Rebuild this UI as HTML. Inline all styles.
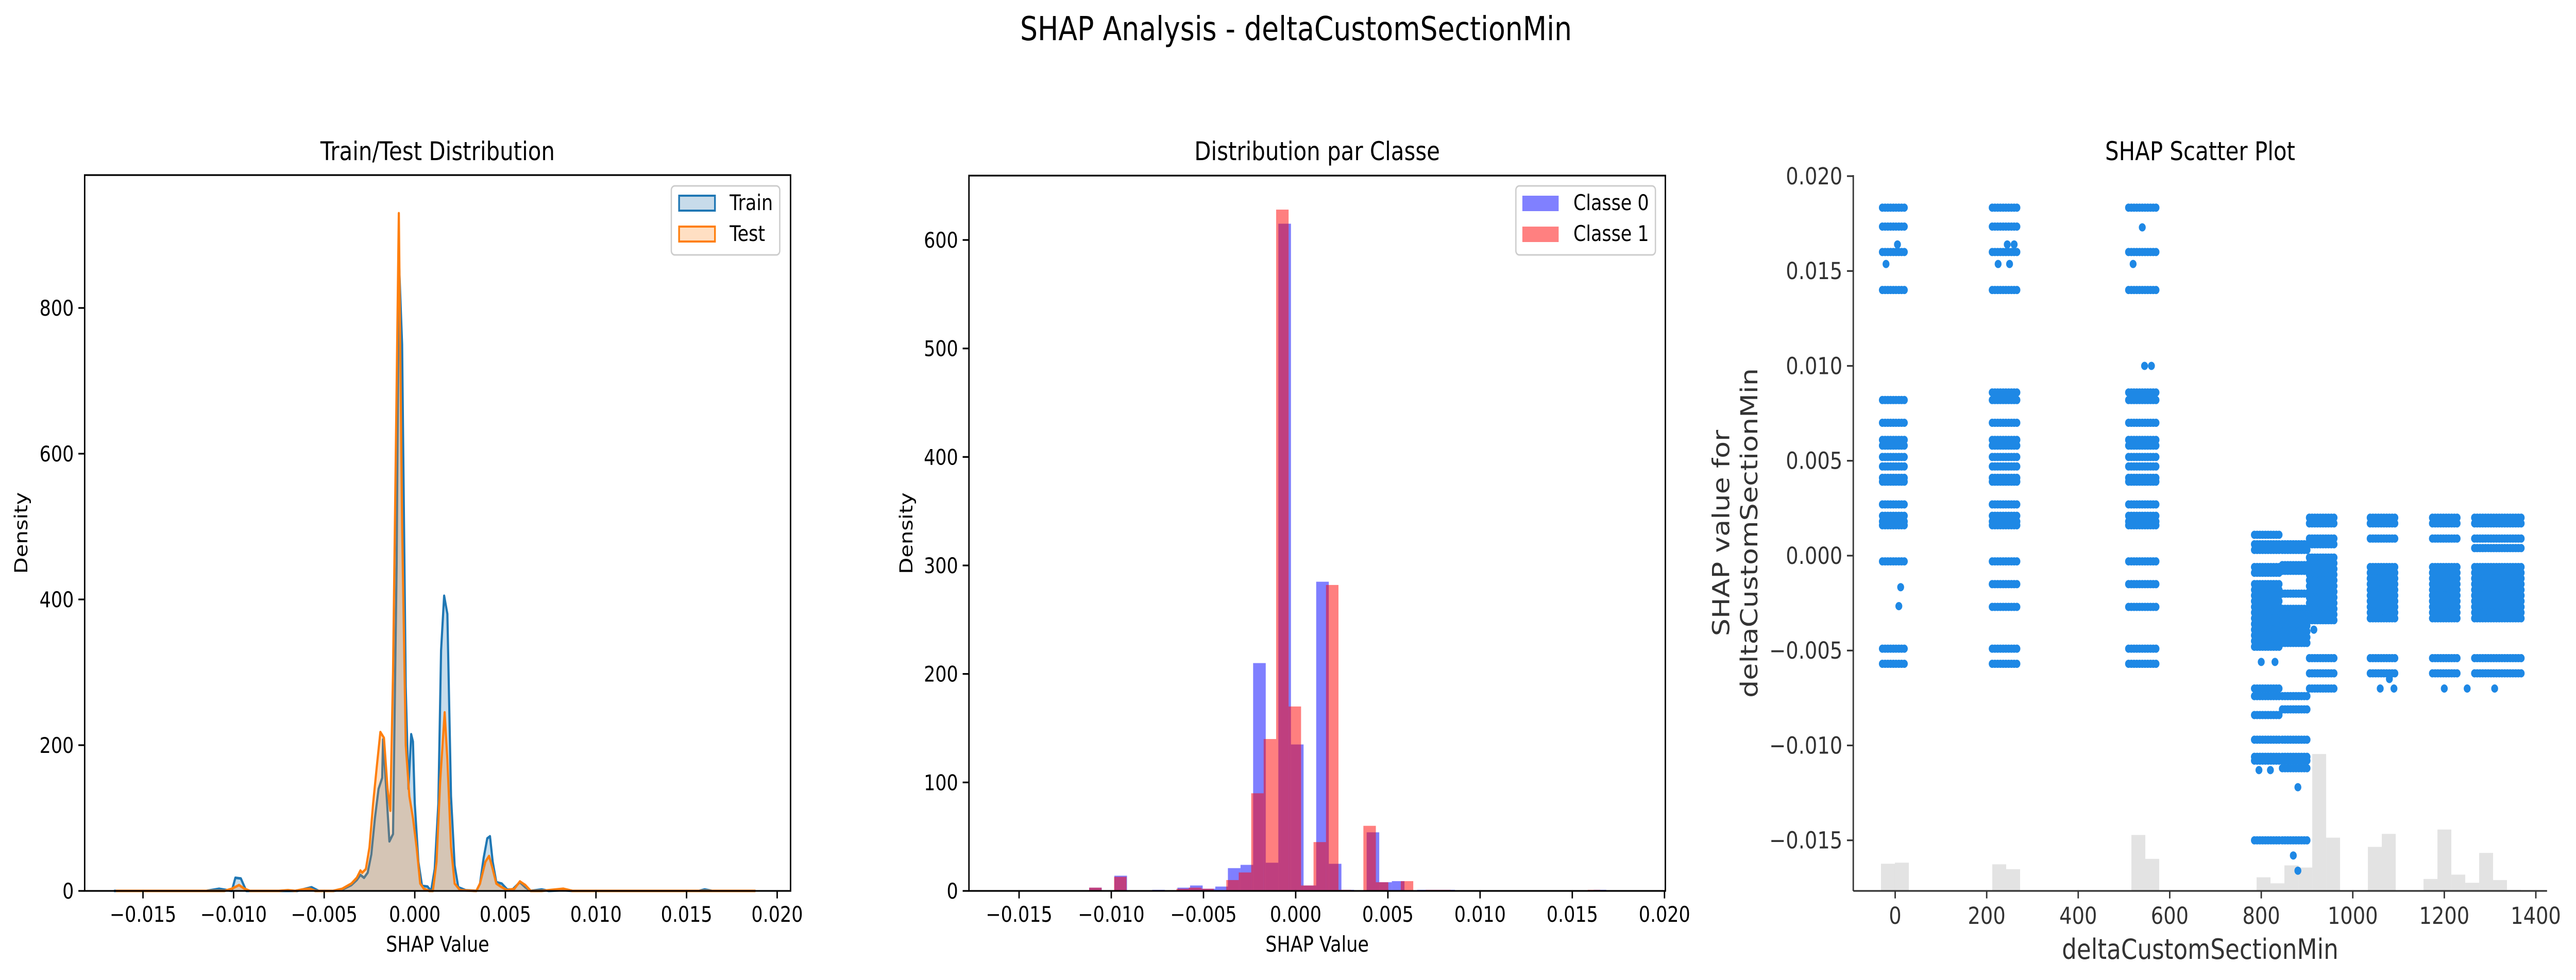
<!DOCTYPE html>
<html><head><meta charset="utf-8">
<style>
html,body{margin:0;padding:0;background:#fff;overflow:hidden;width:100vw;height:100vh;}
svg{display:block;width:100vw;height:100vh;font-family:"DejaVu Sans","Liberation Sans",sans-serif;}
</style></head>
<body>
<svg id="fig" viewBox="0 0 5963 1903" preserveAspectRatio="none" xmlns="http://www.w3.org/2000/svg">
<rect width="5963" height="1903" fill="#fff"/>
<text x="3000" y="78" font-size="64" text-anchor="middle">SHAP Analysis - deltaCustomSectionMin</text>
<g id="p1"></g>
<g id="p2"></g>
<g id="p3"></g>
</svg>
<script>
// ---------- Panel 1 data ----------
const trainKde = [[-0.0166,0],[-0.0115,0],[-0.0108,3],[-0.0101,0],[-0.0099,18],[-0.0096,17],[-0.0093,0],[-0.0065,0],[-0.0057,5],[-0.0053,0],[-0.0045,0],[-0.0040,2],[-0.0035,8],[-0.0032,15],[-0.0030,22],[-0.0028,18],[-0.0026,25],[-0.0024,50],[-0.0022,100],[-0.0020,140],[-0.0018,155],[-0.00175,208],[-0.0016,150],[-0.0014,68],[-0.0012,78],[-0.0010,450],[-0.00088,870],[-0.0007,750],[-0.0005,280],[-0.00035,140],[-0.0002,215],[-0.0001,205],[0.0000,120],[0.0002,40],[0.0004,7],[0.0007,6],[0.0009,0],[0.0011,30],[0.0013,120],[0.00145,330],[0.00162,405],[0.0018,380],[0.0020,130],[0.0022,35],[0.0024,5],[0.0028,1],[0.0034,0],[0.0036,10],[0.0038,45],[0.0040,72],[0.00415,75],[0.0043,40],[0.0045,12],[0.0048,10],[0.0051,2],[0.0054,2],[0.0058,12],[0.0061,5],[0.0064,0],[0.007,2],[0.0074,0],[0.0082,1],[0.0087,0],[0.0157,0],[0.016,2],[0.0164,0],[0.0188,0]];
const testKde = [[-0.0165,0],[-0.0105,0],[-0.0101,3],[-0.0097,8],[-0.0094,3],[-0.0091,0],[-0.0075,0],[-0.0070,1],[-0.0066,0],[-0.0062,2],[-0.0058,3],[-0.0055,0],[-0.0045,0],[-0.0040,3],[-0.0035,10],[-0.0032,18],[-0.0030,28],[-0.0029,25],[-0.0027,30],[-0.0025,60],[-0.0023,120],[-0.0021,170],[-0.0019,218],[-0.0017,210],[-0.0015,140],[-0.00135,110],[-0.0012,300],[-0.00088,930],[-0.0007,500],[-0.0005,200],[-0.0003,130],[-0.0001,100],[0.0001,60],[0.0003,10],[0.0005,3],[0.0008,0],[0.0010,0],[0.0012,40],[0.0014,150],[0.00165,245],[0.0018,180],[0.0020,60],[0.0022,10],[0.0025,1],[0.0034,0],[0.0036,10],[0.0039,40],[0.0041,48],[0.0043,30],[0.0045,10],[0.0048,5],[0.0051,1],[0.0055,3],[0.0058,13],[0.0061,8],[0.0064,0],[0.0070,0],[0.0082,3],[0.0087,0],[0.0188,0]];
const shapTicks = [-0.015,-0.010,-0.005,0.000,0.005,0.010,0.015,0.020];
const shapTickLabels = ["\u22120.015","\u22120.010","\u22120.005","0.000","0.005","0.010","0.015","0.020"];
const densTicks1 = [0,200,400,600,800];
// ---------- Panel 2 data ----------
const class0Start = -0.0112, class0Width = 0.000684;
const class0Counts = [3,0,14,0,0,1,0,3,5,2,4,21,24,210,26,615,135,5,285,25,1,0,54,8,9,0,1,1,1,0,0,0,0,0,0,0,0,0,0,0,1];
const class1Start = -0.0112, class1Width = 0.000676;
const class1Counts = [3,0,13,0,0,0,0,2,3,2,0,10,17,90,140,628,170,5,45,282,1,0,60,8,0,9,0,1,1,0,0,0,0,0,0,0,0,0,0,0,1];
const densTicks2 = [0,100,200,300,400,500,600];
// ---------- Panel 3 data ----------
const groupRanges = [[-28,25],[212,269],[510,570],[785,841],[846,902],[905,961],[1038,1095],[1174,1231],[1266,1368]];
const groupLevels = [
 [0.01834,0.01734,0.0160,0.0140,0.0082,0.0070,0.0061,0.0058,0.0052,0.0047,0.0041,0.0039,0.0027,0.0021,0.0018,0.0016,-0.0003,-0.0049,-0.0057],
 [0.01834,0.01734,0.0160,0.0140,0.0086,0.0082,0.0070,0.0061,0.0058,0.0052,0.0047,0.0041,0.0039,0.0027,0.0021,0.0018,0.0016,-0.0003,-0.0015,-0.0027,-0.0049,-0.0057],
 [0.01834,0.0160,0.0140,0.0086,0.0082,0.0070,0.0061,0.0058,0.0052,0.0047,0.0041,0.0039,0.0027,0.0021,0.0018,0.0016,-0.0003,-0.0015,-0.0027,-0.0049,-0.0057],
 [0.0011,0.0006,0.0003,-0.0006,-0.0009,-0.0015,-0.0018,-0.0021,-0.0024,-0.0027,-0.0030,-0.0033,-0.0036,-0.0039,-0.0042,-0.0045,-0.0048,-0.0070,-0.0074,-0.0084,-0.0097,-0.0106,-0.0108,-0.0150],
 [0.0006,0.0003,-0.0005,-0.0008,-0.0020,-0.0028,-0.0031,-0.0034,-0.0037,-0.0040,-0.0043,-0.0046,-0.0074,-0.0081,-0.0097,-0.0106,-0.0108,-0.0112,-0.0150],
 [0.0020,0.0017,0.0009,0.0006,-0.0001,-0.0004,-0.0007,-0.0010,-0.0013,-0.0016,-0.0019,-0.0022,-0.0025,-0.0028,-0.0031,-0.0034,-0.0054,-0.0062,-0.0070],
 [0.0020,0.0017,0.0009,-0.0006,-0.0009,-0.0012,-0.0015,-0.0018,-0.0021,-0.0024,-0.0027,-0.0030,-0.0033,-0.0054,-0.0062],
 [0.0020,0.0017,0.0009,-0.0006,-0.0009,-0.0012,-0.0015,-0.0018,-0.0021,-0.0024,-0.0027,-0.0030,-0.0033,-0.0054,-0.0062],
 [0.0020,0.0017,0.0009,0.0004,-0.0006,-0.0009,-0.0012,-0.0015,-0.0018,-0.0021,-0.0024,-0.0027,-0.0030,-0.0033,-0.0054,-0.0062]
];
const singleX = [-20,5,12,8,225,250,245,260,540,520,545,560,800,830,795,820,870,880,880,915,1250,1200,1310,1060,1090,1080];
const singleY = [0.01537,0.0164,-0.00166,-0.00266,0.01537,0.01537,0.0164,0.0164,0.0173,0.01537,0.0100,0.0100,-0.0056,-0.0056,-0.0113,-0.0113,-0.0158,-0.0166,-0.0122,-0.0039,-0.0070,-0.0070,-0.0070,-0.0070,-0.0070,-0.0065];
const featStart = -31, featWidth = 30.4;
const featBins = [0,1,8,9,18,19,27,28,29,30,31,32,35,36,39,40,41,42,43,44,45];
const featCounts = [50,52,49,40,103,59,25,14,47,43,252,98,81,105,22,113,30,15,70,20,2];
const xTicks3 = [0,200,400,600,800,1000,1200,1400];
const yTicks3 = [-0.015,-0.010,-0.005,0.000,0.005,0.010,0.015,0.020];
const yTickLabels3 = ["\u22120.015","\u22120.010","\u22120.005","0.000","0.005","0.010","0.015","0.020"];

const NS = "http://www.w3.org/2000/svg";
function mk(parent, tag, attrs, text){
  const e = document.createElementNS(NS, tag);
  for (const k in attrs) e.setAttribute(k, attrs[k]);
  if (text !== undefined) e.textContent = text;
  parent.appendChild(e); return e;
}
function lin(d0,d1,r0,r1){ return v => r0 + (v-d0)/(d1-d0)*(r1-r0); }

// ================= Panel 1 =================
(function(){
  const g = document.getElementById('p1');
  const L=196,R=1830,T=340,B=1730;
  const x = lin(-0.015,0.020,331,1799);
  const y = lin(0,800,1730,598);
  function area(data, fill, stroke, name){
    let d = "M"+x(data[0][0])+","+y(0);
    data.forEach(p=>{ d += " L"+x(p[0]).toFixed(1)+","+y(p[1]).toFixed(1); });
    d += " L"+x(data[data.length-1][0])+","+y(0)+"Z";
    const a = mk(g,'path',{d:d,fill:fill,'fill-opacity':0.25,stroke:'none'});
    
    
    let l = "";
    data.forEach((p,i)=>{ l += (i?" L":"M")+x(p[0]).toFixed(1)+","+y(p[1]).toFixed(1); });
    const ln = mk(g,'path',{d:l,fill:'none',stroke:stroke,'stroke-width':5,'stroke-linejoin':'round'});
    
    
  }
  area(trainKde,'#1f77b4','#1f77b4','train-kde');
  area(testKde,'#ff7f0e','#ff7f0e','test-kde');
  mk(g,'rect',{x:L,y:T,width:R-L,height:B-T,fill:'none',stroke:'#000','stroke-width':3.3});
  shapTicks.forEach((t,i)=>{
    mk(g,'line',{x1:x(t),x2:x(t),y1:B,y2:B+14.6,stroke:'#000','stroke-width':3.3});
    const tx = mk(g,'text',{x:x(t),y:B+60,'font-size':41.7,'text-anchor':'middle'},shapTickLabels[i]);
    
    
  });
  densTicks1.forEach(t=>{
    mk(g,'line',{x1:L-14.6,x2:L,y1:y(t),y2:y(t),stroke:'#000','stroke-width':3.3});
    const tx = mk(g,'text',{x:L-25,y:y(t)+15,'font-size':41.7,'text-anchor':'end'},String(t));
    
    
  });
  const tt = mk(g,'text',{x:(L+R)/2,y:311,'font-size':50,'text-anchor':'middle'},'Train/Test Distribution');
   
  const xl = mk(g,'text',{x:(L+R)/2,y:1848,'font-size':41.7,'text-anchor':'middle'},'SHAP Value');
   
  const yl = mk(g,'text',{x:0,y:0,'font-size':41.7,'text-anchor':'middle',transform:'translate(63,'+((T+B)/2)+') rotate(-90)'},'Density');
   
  const lg = mk(g,'g',{});
   
  mk(lg,'rect',{x:1554,y:361,width:251,height:134,rx:8,fill:'#fff','fill-opacity':0.8,stroke:'#ccc','stroke-width':3});
  mk(lg,'rect',{x:1572,y:380,width:83,height:29,fill:'#c7dbea',stroke:'#1f77b4','stroke-width':4});
  mk(lg,'text',{x:1689,y:408,'font-size':41.7},'Train');
  mk(lg,'rect',{x:1572,y:440,width:83,height:29,fill:'#ffdfc3',stroke:'#ff7f0e','stroke-width':4});
  mk(lg,'text',{x:1689,y:468,'font-size':41.7},'Test');
})();

// ================= Panel 2 =================
(function(){
  const g = document.getElementById('p2');
  const L=2243,R=3855,T=341,B=1730;
  const x = lin(-0.015,0.020,2359,3853);
  const y = lin(0,600,1730,466);
  class0Counts.forEach((c,k)=>{
    if(!c) return;
    const x0 = x(class0Start+k*class0Width), x1 = x(class0Start+(k+1)*class0Width);
    const r = mk(g,'rect',{x:x0,y:y(c),width:x1-x0,height:y(0)-y(c),fill:'#0000ff','fill-opacity':0.5});
     
  });
  class1Counts.forEach((c,k)=>{
    if(!c) return;
    const x0 = x(class1Start+k*class1Width), x1 = x(class1Start+(k+1)*class1Width);
    const r = mk(g,'rect',{x:x0,y:y(c),width:x1-x0,height:y(0)-y(c),fill:'#ff0000','fill-opacity':0.5});
     
  });
  mk(g,'rect',{x:L,y:T,width:R-L,height:B-T,fill:'none',stroke:'#000','stroke-width':3.3});
  shapTicks.forEach((t,i)=>{
    mk(g,'line',{x1:x(t),x2:x(t),y1:B,y2:B+14.6,stroke:'#000','stroke-width':3.3});
    const tx = mk(g,'text',{x:x(t),y:B+60,'font-size':41.7,'text-anchor':'middle'},shapTickLabels[i]);
    
    
  });
  densTicks2.forEach(t=>{
    mk(g,'line',{x1:L-14.6,x2:L,y1:y(t),y2:y(t),stroke:'#000','stroke-width':3.3});
    const tx = mk(g,'text',{x:L-25,y:y(t)+15,'font-size':41.7,'text-anchor':'end'},String(t));
    
    
  });
  const tt = mk(g,'text',{x:(L+R)/2,y:311,'font-size':50,'text-anchor':'middle'},'Distribution par Classe');
   
  const xl = mk(g,'text',{x:(L+R)/2,y:1848,'font-size':41.7,'text-anchor':'middle'},'SHAP Value');
   
  const yl = mk(g,'text',{x:0,y:0,'font-size':41.7,'text-anchor':'middle',transform:'translate(2112,'+((T+B)/2)+') rotate(-90)'},'Density');
   
  const lg = mk(g,'g',{});
   
  mk(lg,'rect',{x:3509,y:361,width:323,height:134,rx:8,fill:'#fff','fill-opacity':0.8,stroke:'#ccc','stroke-width':3});
  mk(lg,'rect',{x:3524,y:380,width:84,height:30,fill:'#8080ff'});
  mk(lg,'text',{x:3642,y:408,'font-size':41.7},'Classe 0');
  mk(lg,'rect',{x:3524,y:440,width:84,height:30,fill:'#ff8080'});
  mk(lg,'text',{x:3642,y:468,'font-size':41.7},'Classe 1');
})();

// ================= Panel 3 =================
(function(){
  const g = document.getElementById('p3');
  const L=4290,R=5896,T=340,B=1730;
  const x = lin(0,1400,4387,5870);
  const y = lin(0,0.020,1079,342);
  const pxPer = 1/0.948;
  featCounts.forEach((c,i)=>{
    const k = featBins[i];
    const x0 = x(featStart+k*featWidth), x1 = x(featStart+(k+1)*featWidth);
    const r = mk(g,'rect',{x:x0,y:B-c*pxPer,width:x1-x0,height:c*pxPer,fill:'#e3e3e3'});
     
  });
  const dots = mk(g,'g',{fill:'#1e88e5'});
   
  groupRanges.forEach((rg,gi)=>{
    groupLevels[gi].forEach(v=>{
      for(let xv=rg[0]; xv<=rg[1]+0.1; xv+=6){
        mk(dots,'circle',{cx:x(xv).toFixed(1),cy:y(v).toFixed(1),r:8});
      }
    });
  });
  singleX.forEach((xv,i)=>{
    mk(dots,'circle',{cx:x(xv).toFixed(1),cy:y(singleY[i]).toFixed(1),r:8});
  });
  mk(g,'line',{x1:L,x2:L,y1:T,y2:B,stroke:'#333','stroke-width':3.3});
  mk(g,'line',{x1:L,x2:R,y1:B,y2:B,stroke:'#333','stroke-width':3.3});
  xTicks3.forEach(t=>{
    mk(g,'line',{x1:x(t),x2:x(t),y1:B,y2:B+14.6,stroke:'#333','stroke-width':3.3});
    const tx = mk(g,'text',{x:x(t),y:B+64,'font-size':45.8,'text-anchor':'middle',fill:'#333'},String(t));
    
    
  });
  yTicks3.forEach((t,i)=>{
    mk(g,'line',{x1:L-14.6,x2:L,y1:y(t),y2:y(t),stroke:'#333','stroke-width':3.3});
    const tx = mk(g,'text',{x:L-25,y:y(t)+16,'font-size':45.8,'text-anchor':'end',fill:'#333'},yTickLabels3[i]);
    
    
  });
  const tt = mk(g,'text',{x:(L+R)/2,y:311,'font-size':50,'text-anchor':'middle'},'SHAP Scatter Plot');
   
  const xl = mk(g,'text',{x:(L+R)/2,y:1862,'font-size':54,'text-anchor':'middle',fill:'#333'},'deltaCustomSectionMin');
   
  const yl = mk(g,'text',{x:0,y:0,'font-size':54,'text-anchor':'middle',fill:'#333',transform:'translate(4003,'+((T+B)/2)+') rotate(-90)'},'SHAP value for');
   
  const yl2 = mk(g,'text',{x:0,y:0,'font-size':54,'text-anchor':'middle',fill:'#333',transform:'translate(4068,'+((T+B)/2)+') rotate(-90)'},'deltaCustomSectionMin');
   
})();
</script>
</body></html>
